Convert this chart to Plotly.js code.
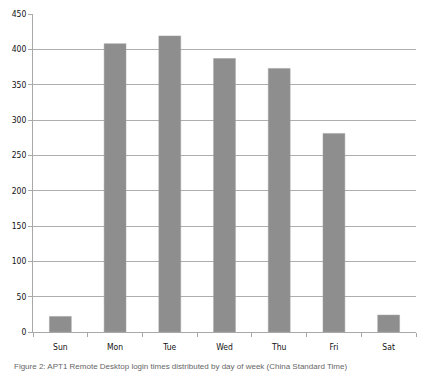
<!DOCTYPE html>
<html>
<head>
<meta charset="utf-8">
<script src="https://cdn.plot.ly/plotly-3.0.1.min.js"></script>
<style>html,body{margin:0;padding:0;background:#fff;}#chart{width:425px;height:377px;}</style>
</head>
<body>
<div id="chart"></div>
<script>
var days = ["Sun", "Mon", "Tue", "Wed", "Thu", "Fri", "Sat"];
var logins = [22, 408, 419, 387, 373, 281, 24];
var yTicks = [0, 50, 100, 150, 200, 250, 300, 350, 400, 450];
var caption = "Figure 2: APT1 Remote Desktop login times distributed by day of week (China Standard Time)";

var trace = {
  type: "bar",
  x: days,
  y: logins,
  marker: {color: "#8e8e8e", line: {color: "#a0a0a0", width: 0.5}},
  hoverinfo: "x+y"
};

var layout = {
  width: 425,
  height: 377,
  margin: {l: 33, r: 9, t: 14, b: 45},
  paper_bgcolor: "#ffffff",
  plot_bgcolor: "#ffffff",
  bargap: 0.6,
  showlegend: false,
  font: {family: "Liberation Sans, Arial, sans-serif", size: 9, color: "#222"},
  xaxis: {
    type: "category",
    showgrid: false,
    showline: true,
    linecolor: "#a8a8a8",
    linewidth: 1,
    ticks: "outside",
    tickson: "boundaries",
    ticklen: 4,
    tickcolor: "#a8a8a8",
    ticklabelstandoff: 7,
    tickfont: {family: "DejaVu Sans Condensed, Liberation Sans Narrow, Liberation Sans, sans-serif", size: 8.5, color: "#111"},
    zeroline: false,
    fixedrange: true
  },
  yaxis: {
    range: [0, 450],
    tickvals: yTicks,
    ticktext: yTicks.map(String),
    showgrid: true,
    gridcolor: "#aeaeae",
    gridwidth: 1,
    showline: true,
    linecolor: "#a8a8a8",
    linewidth: 1,
    ticks: "outside",
    ticklen: 4,
    tickcolor: "#a8a8a8",
    tickfont: {family: "DejaVu Sans Condensed, Liberation Sans Narrow, Liberation Sans, sans-serif", size: 8.5, color: "#111"},
    zeroline: false,
    fixedrange: true
  },
  annotations: [{
    text: caption,
    xref: "paper", yref: "paper",
    x: -0.056, y: -0.088,
    xanchor: "left", yanchor: "top",
    showarrow: false,
    font: {family: "Liberation Sans, Arial, sans-serif", size: 8, color: "#666"}
  }]
};

Plotly.newPlot("chart", [trace], layout, {displayModeBar: false, staticPlot: true});
</script>
</body>
</html>
